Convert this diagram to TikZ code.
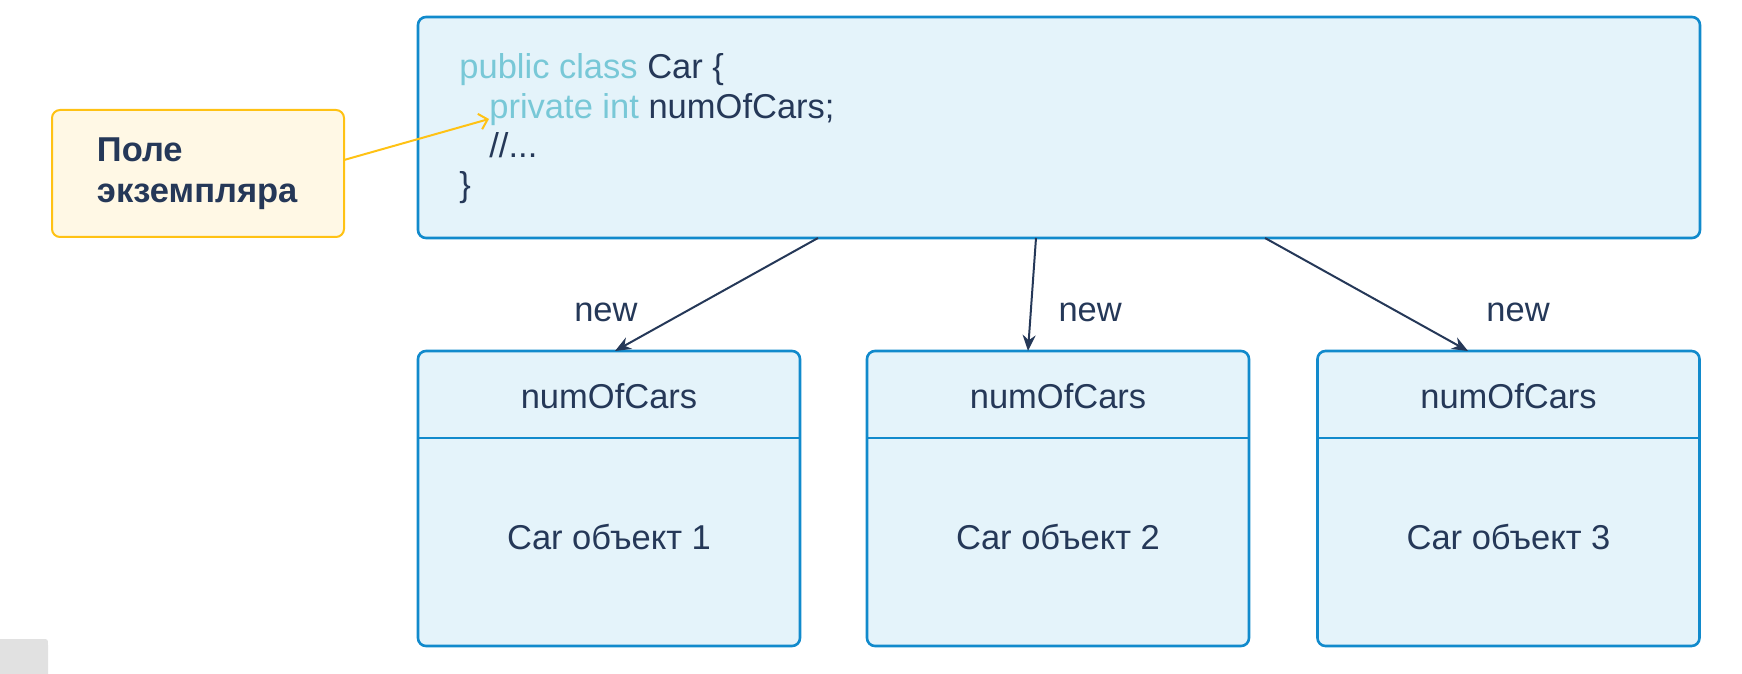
\documentclass[tikz,border=0pt]{standalone}
\usepackage{fontspec}
\setmainfont{Liberation Sans}
\usetikzlibrary{arrows.meta, positioning}
\definecolor{ink}{RGB}{37,56,88}
\definecolor{kwcolor}{RGB}{120,200,215}
\definecolor{boxfill}{RGB}{228,243,250}
\definecolor{boxline}{RGB}{17,138,204}
\definecolor{notefill}{RGB}{255,248,229}
\definecolor{noteline}{RGB}{255,194,20}
\definecolor{tabgray}{RGB}{225,225,225}
\newcommand{\keyw}[1]{\textcolor{kwcolor}{#1}}
\tikzset{
  every node/.style={font=\fontsize{17.25pt}{20pt}\selectfont, text=ink}, % plain slide text
  classbox/.style={draw=boxline, line width=1.3pt, fill=boxfill, rounded corners=4pt, outer sep=0pt, minimum width=641pt, minimum height=110.5pt}, % the class body
  objbox/.style={classbox, minimum width=191pt, minimum height=147.5pt}, % one object
  divider/.style={draw=boxline, line width=1.3pt}, % line under the field
  notebox/.style={draw=noteline, line width=1pt, fill=notefill, rounded corners=4pt, outer sep=0pt, minimum width=146pt, minimum height=63.5pt, text width=101pt, inner xsep=22.5pt, align=left, font=\fontsize{17.25pt}{20.5pt}\selectfont\bfseries}, % yellow remark
  codeline/.style={anchor=base west, inner sep=0pt}, % one line of java
  newlabel/.style={yshift=-1.65pt}, % "new" sits a bit low
  newarrow/.style={draw=ink, line width=1pt, -{Stealth[length=8pt, width=6.5pt]}}, % new object
  notearrow/.style={draw=noteline, line width=1pt, -{Straight Barb[length=4pt, width=8pt]}}, % remark pointer
}

\begin{document}
\begin{tikzpicture}[x=0.5pt, y=-0.5pt]
    \useasboundingbox (0,0) rectangle (1742,674);

    % class
    \node[classbox] (cls) at (1059,127.5) {};
    \node[codeline] (code1) at (459,79) {\keyw{public class} Car \{};
    \node[codeline] (code2) at (489,119) {\keyw{private int} numOfCars;};
    \node[codeline] (code3) at (489,158) {//...};
    \node[codeline] (code4) at (459,197) {\}};

    % remark
    \node[notebox] (note) at (198,173.5) {Поле\\экземпляра};
    \draw[notearrow] ([yshift=6.75pt]note.east) -- (code2.base west);

    % objects
    \foreach \i/\cx in {1/609, 2/1058, 3/1508.5} {
        \node[objbox] (obj\i) at (\cx,498.5) {};
        \draw[divider] ([yshift=-43.5pt]obj\i.north west) -- ([yshift=-43.5pt]obj\i.north east);
        \node (field\i) at ([yshift=-22.5pt]obj\i.north) {numOfCars};
        \node (name\i) at ([yshift=-93pt]obj\i.north) {Car объект \i};
    }

    \draw[newarrow] ([xshift=-120.5pt]cls.south) -- node[newlabel, pos=0.63, left=22.45pt] {new} ([xshift=3pt]obj1.north);
    \draw[newarrow] ([xshift=-11.5pt]cls.south) -- node[newlabel, pos=0.63, right=9.95pt] {new} ([xshift=-15pt]obj2.north);
    \draw[newarrow] ([xshift=103pt]cls.south) -- node[newlabel, pos=0.63, right=42.95pt] {new} ([xshift=-20.25pt]obj3.north);

    % slide tab
    \fill[tabgray] (0,674) -- (0,639) -- (42,639) .. controls (48,639) .. (48,645) -- (48,674) -- cycle;
\end{tikzpicture}
\end{document}
